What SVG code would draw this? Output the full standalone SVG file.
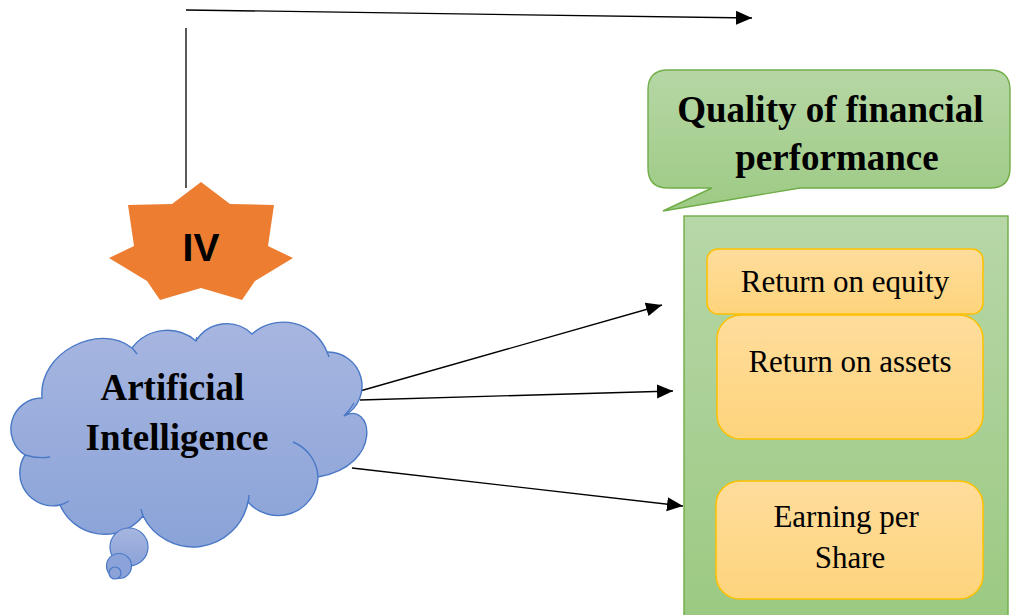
<svg xmlns="http://www.w3.org/2000/svg" width="1011" height="615" viewBox="0 0 1011 615">
  <style>
    .serif { font-family: "Liberation Serif", "Times New Roman", serif; fill: #000; }
    .bold { font-weight: bold; }
    .metric { fill: url(#gold); stroke: #ffc000; stroke-width: 1.5; }
    .edge { stroke: #000; stroke-width: 1.3; fill: none; }
    .cloudline { fill: none; stroke: #4a78c6; stroke-width: 1.4; }
  </style>
  <defs>
    <marker id="arrow" markerUnits="userSpaceOnUse" markerWidth="18" markerHeight="16" refX="16" refY="7" orient="auto">
      <path d="M0,0 L16,7 L0,14 Z" fill="#000"/>
    </marker>
    <linearGradient id="sky" x1="0" y1="0" x2="0" y2="1">
      <stop offset="0" stop-color="#a7b6e0"/>
      <stop offset="1" stop-color="#8aa3d8"/>
    </linearGradient>
    <linearGradient id="leaf" x1="0" y1="0" x2="0" y2="1">
      <stop offset="0" stop-color="#b6d7a5"/>
      <stop offset="1" stop-color="#9dca84"/>
    </linearGradient>
    <linearGradient id="panel" x1="0" y1="0" x2="0" y2="1">
      <stop offset="0" stop-color="#b7d7a8"/>
      <stop offset="1" stop-color="#9bc981"/>
    </linearGradient>
    <linearGradient id="gold" x1="0" y1="0" x2="0" y2="1">
      <stop offset="0" stop-color="#fedd9c"/>
      <stop offset="1" stop-color="#fed47c"/>
    </linearGradient>
  </defs>

  <!-- connectors -->
  <g id="connectors">
    <line class="edge" x1="186" y1="28" x2="186" y2="188"/>
    <line class="edge" x1="186" y1="10" x2="752" y2="18" marker-end="url(#arrow)"/>
    <line class="edge" x1="360" y1="391" x2="662" y2="305" marker-end="url(#arrow)"/>
    <line class="edge" x1="360" y1="400" x2="673" y2="391" marker-end="url(#arrow)"/>
    <line class="edge" x1="352" y1="468" x2="683" y2="506" marker-end="url(#arrow)"/>
  </g>

  <!-- seven-point badge -->
  <g id="badge">
    <polygon fill="#ed7d31" points="201,182 230,204 274,205 268,246 293,258 255,281 242,300 201,288 160,300 147,281 109,258 134,246 128,205 172,204"/>
    <text x="201" y="261" text-anchor="middle" font-family="Liberation Sans, Arial, sans-serif" font-weight="bold" font-size="39">IV</text>
  </g>

  <!-- thought cloud -->
  <g id="ai-cloud">
    <path fill="url(#sky)" stroke="#4a78c6" stroke-width="1.4" d="M42,398 C38,352 100,322 132,348 A44,44 0 0 1 196,341 A36,36 0 0 1 252,334 A47,47 0 0 1 327,352 A34,34 0 0 1 344,416 C372,400 385,465 318,477 A40,40 0 0 1 248,502 A56,56 0 0 1 143,516 A49,49 0 0 1 60,505 A33,33 0 0 1 25,455 A31,31 0 0 1 42,398 Z"/>
    <path class="cloudline" d="M25,455 Q38,459 50,457"/>
    <path class="cloudline" d="M60,505 Q64,504 69,501"/>
    <path class="cloudline" d="M143,516 Q142,513 141,509"/>
    <path class="cloudline" d="M248,502 Q249,499 249,495"/>
    <path class="cloudline" d="M293,442 A40,40 0 0 1 318,477"/>
    <path class="cloudline" d="M344,416 Q350,410 354,403"/>
    <path class="cloudline" d="M132,348 Q135,351 137,354"/>
    <path class="cloudline" d="M327,352 Q328,354 329,357"/>
    <path class="cloudline" d="M196,341 Q196,339 197,337"/>
    <circle cx="129" cy="547" r="19" fill="url(#sky)" stroke="#4a78c6" stroke-width="1.2"/>
    <circle cx="119" cy="566" r="12.5" fill="#8ba3d8" stroke="#4a78c6" stroke-width="1.2"/>
    <circle cx="115" cy="573" r="6" fill="#8ba3d8" stroke="#4a78c6" stroke-width="1.2"/>
    <text class="serif bold" font-size="37" text-anchor="middle">
      <tspan x="177" y="400">Artificial</tspan>
      <tspan x="177" y="450">Intelligence</tspan>
    </text>
  </g>

  <!-- speech callout -->
  <g id="quality-callout">
    <path fill="url(#leaf)" stroke="#70ad47" stroke-width="1.4" d="M668,70 H990 Q1010,70 1010,90 V168 Q1010,188 990,188 H800 L663,211 L712,188 H668 Q648,188 648,168 V90 Q648,70 668,70 Z"/>
    <text class="serif bold" font-size="37" text-anchor="middle">
      <tspan x="835" y="122">Quality of financial</tspan>
      <tspan x="837" y="170">performance</tspan>
    </text>
  </g>

  <!-- indicator panel -->
  <g id="indicator-panel">
    <rect x="684" y="216" width="324" height="410" fill="url(#panel)" stroke="#70ad47" stroke-width="1.4"/>
  </g>

  <g id="roe">
    <rect class="metric" x="707" y="249" width="276" height="65" rx="11"/>
    <text class="serif" x="845" y="292" font-size="31" text-anchor="middle">Return on equity</text>
  </g>

  <g id="roa">
    <rect class="metric" x="717" y="315" width="266" height="124" rx="24"/>
    <text class="serif" x="850" y="372" font-size="31" text-anchor="middle">Return on assets</text>
  </g>

  <g id="eps">
    <rect class="metric" x="716" y="481" width="267" height="118" rx="24"/>
    <text class="serif" font-size="31" text-anchor="middle">
      <tspan x="850" y="527">Earning per</tspan>
      <tspan x="850" y="568">Share</tspan>
    </text>
  </g>
</svg>
